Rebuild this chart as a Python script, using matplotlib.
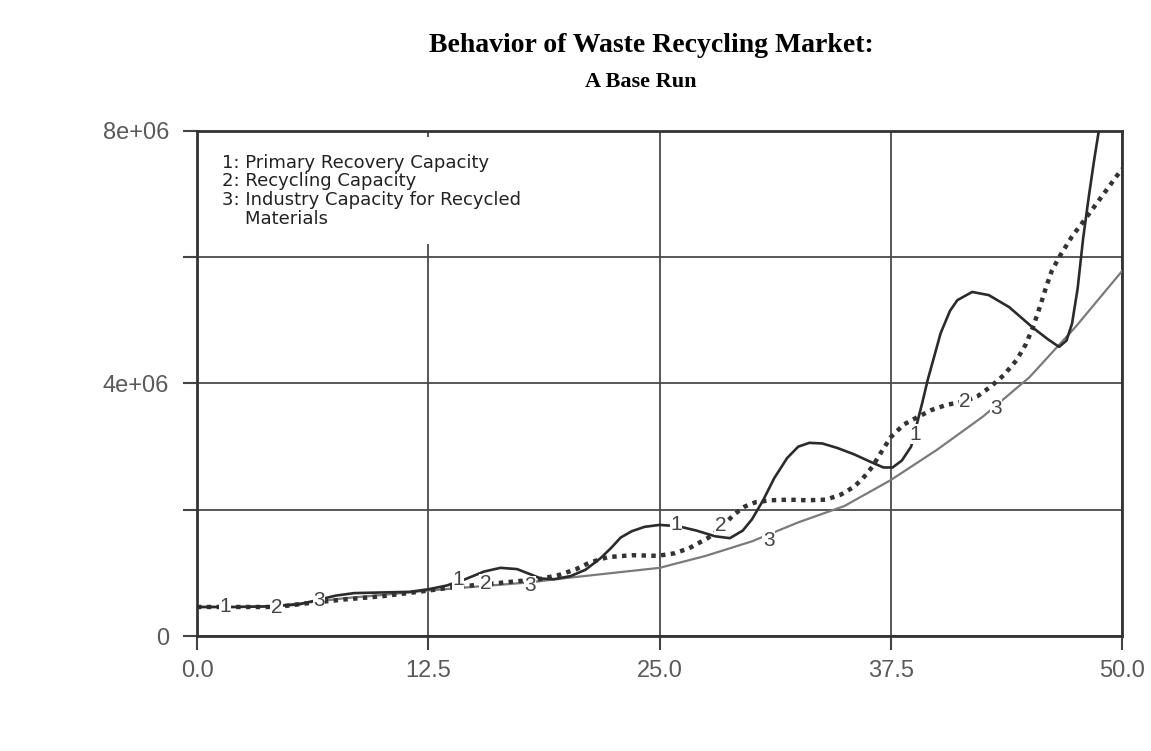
import numpy as np
import matplotlib.pyplot as plt

# time axis and values (millions)
t1 = [0, 2, 4, 5.5, 6.5, 7.5, 8.5, 10, 11.5, 12.5, 13.5, 14.5, 15.5, 16.4, 17.3, 18.0, 18.6,
      19.3, 20.2, 21.0, 21.8, 22.4, 22.9, 23.5, 24.2, 25.0, 26.0, 27.0, 28.0, 28.8, 29.5, 30.0,
      30.6, 31.2, 31.9, 32.5, 33.1, 33.8, 34.6, 35.5, 36.4, 37.1, 37.6, 38.1, 38.6, 39.2, 39.5,
      40.2, 40.7, 41.1, 41.9, 42.8, 43.9, 45.2, 46.0, 46.6, 47.0, 47.3, 47.6, 47.9, 48.2, 48.5,
      48.8, 49.2]
v1 = [0.46, 0.46, 0.47, 0.50, 0.57, 0.64, 0.68, 0.69, 0.70, 0.74, 0.80, 0.90, 1.02, 1.08, 1.06,
      0.98, 0.91, 0.90, 0.95, 1.05, 1.23, 1.40, 1.56, 1.66, 1.73, 1.76, 1.74, 1.67, 1.58, 1.55,
      1.67, 1.85, 2.15, 2.50, 2.82, 3.00, 3.06, 3.05, 2.98, 2.88, 2.76, 2.67, 2.67, 2.78, 3.00,
      3.69, 4.06, 4.80, 5.15, 5.32, 5.45, 5.40, 5.21, 4.88, 4.70, 4.58, 4.68, 4.95, 5.50, 6.30,
      6.95, 7.55, 8.10, 8.90]

t2 = [0, 2, 4.3, 6, 8, 10, 12.5, 14, 15.6, 17, 18.5, 19.6, 20.5, 21.2, 22.2, 23.5, 24.9, 25.8,
      26.6, 27.6, 28.3, 29.0, 29.6, 30.2, 31, 32, 33, 34, 34.8, 35.5, 36.0, 36.5, 37.0, 37.5,
      38.2, 38.9, 39.7, 40.5, 41.5, 42.2, 42.9, 43.6, 44.3, 44.8, 45.2, 45.6, 45.9, 46.2, 46.6,
      47.3, 48.1, 49.0, 49.9, 50]
v2 = [0.46, 0.46, 0.46, 0.52, 0.58, 0.63, 0.72, 0.78, 0.82, 0.86, 0.90, 0.97, 1.06, 1.16, 1.25,
      1.28, 1.27, 1.31, 1.39, 1.55, 1.70, 1.92, 2.05, 2.12, 2.15, 2.16, 2.15, 2.16, 2.24, 2.36,
      2.50, 2.68, 2.92, 3.15, 3.35, 3.46, 3.58, 3.66, 3.72, 3.80, 3.95, 4.13, 4.37, 4.62, 4.90,
      5.25, 5.53, 5.78, 6.00, 6.33, 6.64, 7.00, 7.36, 7.40]

t3 = [0, 2, 4, 6.6, 8, 10, 12.5, 15, 18, 20, 22.5, 25, 27.5, 30, 32.5, 35, 37.5, 40, 42.5, 45,
      47.5, 50]
v3 = [0.46, 0.46, 0.47, 0.55, 0.60, 0.65, 0.72, 0.78, 0.85, 0.92, 1.00, 1.08, 1.27, 1.50, 1.80,
      2.06, 2.47, 2.95, 3.48, 4.10, 4.90, 5.78]

# where the curve numbers sit (t, value in millions)
lab1 = [(1.5, 0.46), (14.1, 0.89), (25.9, 1.76), (38.8, 3.20)]
lab2 = [(4.3, 0.45), (15.6, 0.83), (28.3, 1.75), (41.5, 3.72)]
lab3 = [(6.6, 0.57), (18.0, 0.80), (30.9, 1.52), (43.2, 3.60)]

legend_lines = ["1: Primary Recovery Capacity",
                "2: Recycling Capacity",
                "3: Industry Capacity for Recycled",
                "    Materials"]

fig = plt.figure(figsize=(11.51, 7.51), dpi=100)
ax = fig.add_axes([0.1712, 0.1531, 0.8036, 0.6725])

M = 1e6
ax.plot(np.array(t3), np.array(v3) * M, color="#7a7a7a", lw=1.6, zorder=3)
ax.plot(np.array(t2), np.array(v2) * M, color="#333333", lw=3.2,
        linestyle=(0, (1.0, 1.2)), zorder=4)
ax.plot(np.array(t1), np.array(v1) * M, color="#2b2b2b", lw=1.9, zorder=5)

for labs, num in [(lab1, "1"), (lab2, "2"), (lab3, "3")]:
    for x, y in labs:
        ax.text(x, y * M, num, fontsize=15, color="#444444", ha="center", va="center",
                family="Liberation Sans", zorder=6,
                bbox=dict(facecolor="white", edgecolor="none", pad=0.3))

ax.set_xlim(0, 50)
ax.set_ylim(0, 8e6)
ax.set_xticks([0, 12.5, 25, 37.5, 50])
ax.set_xticklabels(["0.0", "12.5", "25.0", "37.5", "50.0"])
ax.set_yticks([0, 2e6, 4e6, 6e6, 8e6])
ax.set_yticklabels(["0", "", "4e+06", "", "8e+06"])
ax.tick_params(direction="out", length=10, width=1.5, colors="#444444", labelsize=17)
ax.tick_params(axis="y", pad=10)
ax.tick_params(axis="x", pad=7)
for lbl in ax.get_xticklabels() + ax.get_yticklabels():
    lbl.set_family("Liberation Sans")
    lbl.set_color("#5a5a5a")

ax.grid(True, color="#4a4a4a", lw=1.3, zorder=1)
for s in ax.spines.values():
    s.set_color("#333333")
    s.set_linewidth(2)

# legend block, white background hides the grid behind it
ax.text(0.027, 0.955, "\n".join(legend_lines), transform=ax.transAxes, fontsize=13,
        va="top", ha="left", family="DejaVu Sans", color="#222222", linespacing=1.05,
        zorder=7, bbox=dict(facecolor="white", edgecolor="none", pad=12))

fig.text(0.566, 0.94, "Behavior of Waste Recycling Market:", ha="center", va="center",
         fontsize=20, fontweight="bold", family="Liberation Serif")
fig.text(0.557, 0.891, "A Base Run", ha="center", va="center", fontsize=16,
         fontweight="bold", family="Liberation Serif")

fig.savefig("out.png", dpi=100)
